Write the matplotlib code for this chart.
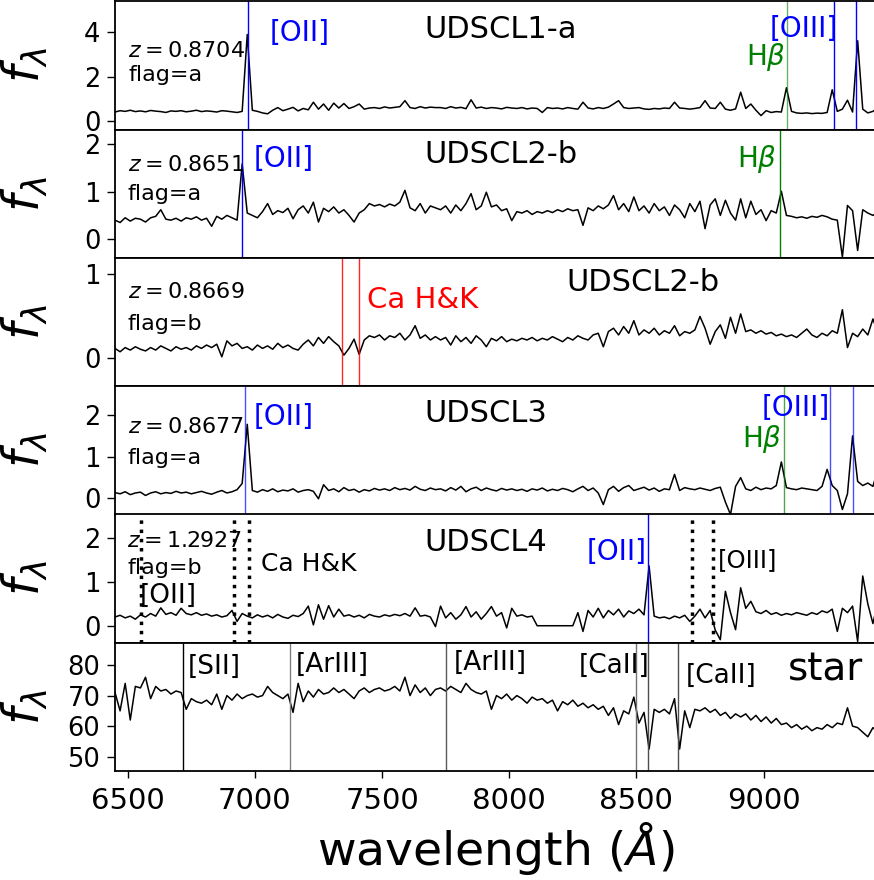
import matplotlib
matplotlib.use("Agg")
import matplotlib.pyplot as plt

# ---------------- data ----------------
wavelength = [
    6450, 6470, 6490, 6510, 6530, 6550, 6570, 6590, 6610, 6630,
    6650, 6670, 6690, 6710, 6730, 6750, 6770, 6790, 6810, 6830,
    6850, 6870, 6890, 6910, 6930, 6950, 6970, 6990, 7010, 7030,
    7050, 7070, 7090, 7110, 7130, 7150, 7170, 7190, 7210, 7230,
    7250, 7270, 7290, 7310, 7330, 7350, 7370, 7390, 7410, 7430,
    7450, 7470, 7490, 7510, 7530, 7550, 7570, 7590, 7610, 7630,
    7650, 7670, 7690, 7710, 7730, 7750, 7770, 7790, 7810, 7830,
    7850, 7870, 7890, 7910, 7930, 7950, 7970, 7990, 8010, 8030,
    8050, 8070, 8090, 8110, 8130, 8150, 8170, 8190, 8210, 8230,
    8250, 8270, 8290, 8310, 8330, 8350, 8370, 8390, 8410, 8430,
    8450, 8470, 8490, 8510, 8530, 8550, 8570, 8590, 8610, 8630,
    8650, 8670, 8690, 8710, 8730, 8750, 8770, 8790, 8810, 8830,
    8850, 8870, 8890, 8910, 8930, 8950, 8970, 8990, 9010, 9030,
    9050, 9070, 9090, 9110, 9130, 9150, 9170, 9190, 9210, 9230,
    9250, 9270, 9290, 9310, 9330, 9350, 9370, 9390, 9410, 9430,
    9450]

flux_udscl1a = [
    0.42, 0.48, 0.45, 0.50, 0.44, 0.47, 0.43, 0.49, 0.46, 0.44,
    0.40, 0.47, 0.45, 0.48, 0.43, 0.46, 0.50, 0.44, 0.47, 0.45,
    0.42, 0.48, 0.46, 0.43, 0.40, 0.45, 3.90, 0.50, 0.45, 0.38,
    0.34, 0.50, 0.62, 0.48, 0.55, 0.63, 0.47, 0.58, 0.52, 0.86,
    0.55, 0.78, 0.50, 0.82, 0.60, 0.80, 0.58, 0.66, 0.78, 0.55,
    0.60, 0.62, 0.58, 0.65, 0.60, 0.63, 0.66, 0.93, 0.62, 0.58,
    0.66, 0.60, 0.64, 0.62, 0.62, 0.58, 0.66, 0.60, 0.63, 0.57,
    0.97, 0.60, 0.64, 0.58, 0.62, 0.60, 0.56, 0.63, 0.60, 0.58,
    0.62, 0.56, 0.60, 0.58, 0.40, 0.62, 0.58, 0.60, 0.56, 0.62,
    0.58, 0.55, 0.86, 0.60, 0.56, 0.62, 0.58, 0.64, 0.78, 0.93,
    0.62, 0.58, 0.60, 0.62, 0.56, 0.54, 0.58, 0.56, 0.60, 0.58,
    0.86, 0.60, 0.58, 0.55, 0.58, 0.62, 0.93, 0.60, 0.58, 0.86,
    0.55, 0.50, 0.56, 1.31, 0.58, 0.78, 0.50, 0.26, 0.48, 0.40,
    0.44, 0.42, 1.51, 0.45, 0.38, 0.36, 0.38, 0.35, 0.37, 0.36,
    0.40, 1.42, 0.45, 0.55, 0.95, 0.42, 3.62, 0.55, 0.38, 0.45,
    0.62]

flux_udscl2b_em = [
    0.40, 0.35, 0.45, 0.38, 0.44, 0.42, 0.36, 0.45, 0.48, 0.62,
    0.42, 0.40, 0.44, 0.38, 0.45, 0.42, 0.47, 0.40, 0.44, 0.27,
    0.48, 0.42, 0.50, 0.45, 0.40, 1.59, 0.55, 0.50, 0.45, 0.58,
    0.75, 0.52, 0.60, 0.56, 0.65, 0.43, 0.62, 0.70, 0.55, 0.78,
    0.36, 0.65, 0.58, 0.68, 0.55, 0.62, 0.50, 0.36, 0.55, 0.62,
    0.75, 0.70, 0.73, 0.68, 0.74, 0.70, 0.78, 1.03, 0.66, 0.60,
    0.75, 0.55, 0.70, 0.66, 0.62, 0.70, 0.55, 0.72, 0.60, 0.75,
    0.96, 0.62, 0.70, 0.99, 0.68, 0.72, 0.60, 0.64, 0.39, 0.58,
    0.55, 0.60, 0.52, 0.58, 0.55, 0.60, 0.56, 0.62, 0.58, 0.64,
    0.60, 0.62, 0.29, 0.66, 0.60, 0.70, 0.64, 0.72, 0.92, 0.62,
    0.75, 0.58, 0.89, 0.60, 0.70, 0.55, 0.75, 0.60, 0.68, 0.50,
    0.72, 0.62, 0.45, 0.75, 0.58, 0.80, 0.22, 0.72, 0.85, 0.50,
    0.82, 0.55, 0.40, 0.85, 0.45, 0.80, 0.52, 0.62, 0.39, 0.60,
    0.55, 1.01, 0.50, 0.48, 0.45, 0.47, 0.44, 0.48, 0.46, 0.50,
    0.47, 0.42, 0.40, -0.38, 0.71, 0.60, -0.24, 0.62, 0.55, 0.50,
    0.58]

flux_udscl2b_abs = [
    0.12, 0.08, 0.13, 0.10, 0.14, 0.11, 0.09, 0.13, 0.10, 0.15,
    0.12, 0.09, 0.14, 0.11, 0.13, 0.10, 0.15, 0.12, 0.16, 0.13,
    0.17, 0.02, 0.21, 0.15, 0.18, 0.12, 0.14, 0.10, 0.16, 0.12,
    0.15, 0.11, 0.18, 0.13, 0.16, 0.12, 0.10, 0.17, 0.22, 0.15,
    0.25, 0.18, 0.26, 0.20, 0.15, 0.04, 0.12, 0.23, 0.05, 0.22,
    0.27, 0.25, 0.28, 0.22, 0.27, 0.25, 0.30, 0.22, 0.28, 0.39,
    0.24, 0.28, 0.22, 0.26, 0.22, 0.25, 0.16, 0.27, 0.20, 0.25,
    0.18, 0.27, 0.22, 0.14, 0.24, 0.21, 0.26, 0.20, 0.23, 0.21,
    0.24, 0.22, 0.25, 0.21, 0.24, 0.22, 0.26, 0.23, 0.20, 0.25,
    0.22, 0.27, 0.24, 0.22, 0.28, 0.30, 0.14, 0.32, 0.36, 0.28,
    0.38, 0.30, 0.45, 0.28, 0.34, 0.30, 0.36, 0.28, 0.33, 0.30,
    0.39, 0.27, 0.32, 0.30, 0.34, 0.50, 0.36, 0.17, 0.32, 0.40,
    0.24, 0.49, 0.30, 0.53, 0.32, 0.34, 0.30, 0.33, 0.29, 0.31,
    0.27, 0.29, 0.26, 0.28, 0.25, 0.30, 0.35, 0.28, 0.25, 0.30,
    0.27, 0.33, 0.30, 0.58, 0.13, 0.30, 0.26, 0.35, 0.28, 0.47,
    0.30]

flux_udscl3 = [
    0.13, 0.10, 0.15, 0.08, 0.12, 0.14, 0.06, 0.12, 0.15, 0.10,
    0.13, 0.11, 0.16, 0.12, 0.14, 0.10, 0.13, 0.16, 0.12, 0.09,
    0.14, 0.18, 0.12, 0.15, 0.20, 0.35, 1.78, 0.18, 0.14, 0.20,
    0.16, 0.22, 0.15, 0.19, 0.17, 0.22, 0.14, 0.18, 0.20, 0.16,
    -0.02, 0.32, 0.18, 0.22, 0.15, 0.25, 0.18, 0.21, 0.14, 0.20,
    0.17, 0.23, 0.19, 0.22, 0.18, 0.25, 0.20, 0.23, 0.19, 0.28,
    0.21, 0.18, 0.24, 0.20, 0.22, 0.17, 0.25, 0.19, 0.28, 0.15,
    0.22, 0.26, 0.18, 0.24, 0.20, 0.17, 0.23, 0.19, 0.22, 0.18,
    0.21, 0.16, 0.22, 0.19, 0.24, 0.17, 0.21, 0.18, 0.23, 0.20,
    0.15, 0.22, 0.28, 0.18, 0.24, 0.12, -0.16, 0.20, 0.28, 0.16,
    0.25, 0.30, 0.18, 0.22, 0.26, 0.19, 0.24, 0.16, 0.22, 0.20,
    0.57, 0.18, 0.25, 0.22, 0.20, 0.24, 0.21, 0.18, 0.23, 0.26,
    -0.10, -0.40, 0.28, 0.49, 0.22, 0.18, 0.26, 0.20, 0.24, 0.22,
    0.30, 0.87, 0.25, 0.22, 0.20, 0.24, 0.22, 0.20, 0.18, 0.28,
    0.69, 0.30, 0.18, -0.28, 0.10, 1.50, 0.40, 0.30, 0.36, 0.28,
    0.69]

flux_udscl4 = [
    0.20, 0.24, 0.18, 0.22, 0.15, 0.25, 0.20, 0.28, 0.22, 0.41,
    0.26, 0.30, 0.24, 0.40, 0.28, 0.25, 0.30, 0.24, 0.27, 0.22,
    0.25, 0.20, 0.23, 0.35, 0.10, 0.28, 0.22, 0.18, 0.25, 0.20,
    0.24, 0.18, 0.26, 0.20, 0.17, 0.24, 0.21, 0.28, 0.45, 0.02,
    0.48, 0.15, 0.46, 0.20, 0.38, 0.22, 0.25, 0.20, 0.24, 0.18,
    0.26, 0.22, 0.20, 0.25, 0.22, 0.26, 0.23, 0.28, 0.22, 0.41,
    0.22, 0.24, 0.20, -0.02, 0.45, 0.18, 0.30, 0.15, 0.25, 0.44,
    0.20, 0.32, 0.15, 0.28, 0.44, 0.22, 0.30, -0.05, 0.40, 0.22,
    0.25, 0.20, 0.22, 0.00, 0.00, 0.00, 0.00, 0.00, 0.00, 0.00,
    0.00, 0.30, -0.13, 0.35, 0.20, 0.40, 0.18, 0.35, 0.25, 0.38,
    0.20, 0.34, 0.28, 0.38, 0.25, 1.37, 0.22, 0.18, 0.20, 0.16,
    0.22, 0.18, 0.24, 0.10, 0.22, 0.38, 0.18, 0.35, -0.10, -0.32,
    0.79, 0.30, -0.09, 0.87, 0.40, 0.56, 0.32, 0.28, 0.35, 0.26,
    0.30, 0.24, 0.28, 0.25, 0.30, 0.27, 0.24, 0.30, 0.26, 0.34,
    0.30, 0.38, -0.13, 0.40, 0.30, 0.45, -0.36, 1.14, 0.50, 0.05,
    0.56]

flux_star = [
    71.0, 65.0, 74.0, 62.0, 73.0, 72.5, 76.0, 69.0, 73.0, 71.5,
    72.0, 70.5, 71.5, 71.0, 65.5, 69.0, 68.0, 67.5, 68.5, 67.0,
    70.5, 65.5, 70.0, 68.5, 70.5, 69.0, 70.0, 70.5, 69.5, 70.0,
    73.0, 71.0, 70.0, 69.0, 70.5, 64.5, 74.0, 68.0, 71.5, 69.5,
    72.0, 70.5, 71.0, 72.5, 71.0, 72.0, 70.5, 69.0, 71.5, 72.5,
    71.0, 72.0, 72.5, 71.5, 72.0, 73.0, 71.5, 76.0, 70.0, 73.5,
    71.0, 72.5, 70.0, 72.0, 72.5, 71.5, 73.0, 72.0, 71.0, 74.0,
    72.0, 71.0, 70.5, 71.5, 65.5, 70.0, 69.0, 70.5, 68.5, 70.0,
    69.0, 67.5, 69.5, 68.5, 69.0, 67.5, 68.5, 65.0, 68.0, 67.0,
    68.5, 66.5, 67.5, 66.0, 67.0, 65.5, 66.5, 63.5, 66.0, 60.5,
    65.0, 64.0, 69.5, 61.0, 64.5, 52.5, 65.5, 64.5, 65.5, 64.0,
    69.0, 52.5, 65.0, 59.5, 65.5, 65.0, 66.0, 64.5, 65.5, 63.5,
    64.5, 62.5, 64.0, 63.0, 64.0, 62.0, 63.5, 61.5, 63.0, 61.0,
    62.5, 60.5, 61.0, 59.5, 60.5, 59.0, 60.0, 58.5, 59.5, 59.0,
    60.5, 59.5, 61.0, 60.5, 66.0, 60.0, 59.5, 58.0, 56.5, 59.5,
    58.0]

# rest-frame lines (Angstrom) and redshifts
rest_OII = 3727.0
rest_Hb = 4861.0
rest_OIII = [4959.0, 5007.0]
rest_CaK = 3934.0
rest_CaH = 3969.0
z_values = [0.8704, 0.8651, 0.8669, 0.8677, 1.2927]
z_alt_udscl4 = 0.758
flags = ["a", "a", "b", "a", "b"]
star_lines = [6719.0, 7138.0, 7751.0, 8500.0, 8544.0, 8664.0]
star_line_colors = ["black", "0.5", "0.35", "0.45", "0.3", "0.3"]

spectra = [flux_udscl1a, flux_udscl2b_em, flux_udscl2b_abs, flux_udscl3,
           flux_udscl4, flux_star]
ylims = [(-0.375, 5.38), (-0.40, 2.31), (-0.33, 1.195), (-0.40, 2.70),
         (-0.39, 2.55), (45.3, 87.3)]
yticks = [[0, 2, 4], [0, 1, 2], [0, 1], [0, 1, 2], [0, 1, 2], [50, 60, 70, 80]]
xticks = [6500, 7000, 7500, 8000, 8500, 9000]

for s in spectra:
    assert len(s) == len(wavelength), len(s)

# ---------------- figure ----------------
W, H = 874, 880
fig = plt.figure(figsize=(W / 100, H / 100), dpi=100)
ax_left, ax_right = 115.0, 878.0
top, bottom = 1.5, 771.0
n = 6
ph = (bottom - top) / n
axes = []
for k in range(n):
    y0 = top + k * ph
    ax = fig.add_axes([ax_left / W, 1 - (y0 + ph) / H,
                       (ax_right - ax_left) / W, ph / H])
    ax.plot(wavelength, spectra[k], color="black", lw=1.1)
    ax.set_xlim(6450, 9450)
    ax.set_ylim(*ylims[k])
    ax.set_yticks(yticks[k])
    ax.tick_params(axis="y", labelsize=18.5, length=5.5, width=1.0, pad=5)
    ax.set_xticks(xticks)
    if k < n - 1:
        ax.tick_params(axis="x", bottom=False, labelbottom=False)
    else:
        ax.tick_params(axis="x", labelsize=21, length=5, width=1.0, pad=6.5)
    ax.set_ylabel(r"$f_\lambda$", fontsize=35)
    ax.yaxis.set_label_coords(-0.085, 0.5)
    for sp in ax.spines.values():
        sp.set_linewidth(1.3)
    axes.append(ax)


def ftext(x, y, s, size, color="black"):
    fig.text(x / W, 1 - y / H, s, fontsize=size, color=color,
             ha="left", va="baseline")


# panel 1
z = z_values[0]
axes[0].axvline(rest_OII * (1 + z), color="blue", lw=1.0)
axes[0].axvline(rest_Hb * (1 + z), color="green", lw=1.0, alpha=0.6)
for r in rest_OIII:
    axes[0].axvline(r * (1 + z), color="blue", lw=1.0)
# panel 2
z = z_values[1]
axes[1].axvline(rest_OII * (1 + z), color="blue", lw=1.0)
axes[1].axvline(rest_Hb * (1 + z), color="green", lw=1.0)
# panel 3
z = z_values[2]
axes[2].axvline(rest_CaK * (1 + z), color="red", lw=1.0, alpha=0.85)
axes[2].axvline(rest_CaH * (1 + z), color="red", lw=1.0, alpha=0.85)
# panel 4
z = z_values[3]
axes[3].axvline(rest_OII * (1 + z), color="blue", lw=1.0, alpha=0.7)
axes[3].axvline(rest_Hb * (1 + z), color="green", lw=1.0, alpha=0.7)
for r in rest_OIII:
    axes[3].axvline(r * (1 + z), color="blue", lw=1.0, alpha=0.7)
# panel 5
z = z_values[4]
axes[4].axvline(rest_OII * (1 + z), color="blue", lw=1.0)
za = z_alt_udscl4
for r in [rest_OII, rest_CaK, rest_CaH] + rest_OIII:
    axes[4].axvline(r * (1 + za), color="black", lw=2.5, ls=":")
# panel 6 (star)
for wl, c in zip(star_lines, star_line_colors):
    axes[5].axvline(wl, color=c, lw=1.0)

# annotations
z_pos = [(127.7, 56.7), (128, 170.7), (128, 298.3), (128, 433.3), (126.7, 546.7)]
f_pos = [(128.3, 81), (128, 200), (128, 330), (128, 464.3), (128, 574)]
for k in range(5):
    ftext(*z_pos[k], r"$z = %.4f$" % z_values[k], 16)
    ftext(*f_pos[k], "flag=%s" % flags[k], 16)

ftext(269.3, 40.7, "[OII]", 20, "blue")
ftext(424, 37.7, "UDSCL1-a", 22)
ftext(770, 37.3, "[OIII]", 20, "blue")
ftext(746, 65, r"H$\beta$", 20, "green")

ftext(254, 167.3, "[OII]", 20, "blue")
ftext(424, 163.3, "UDSCL2-b", 22)
ftext(736.7, 166.7, r"H$\beta$", 20, "green")

ftext(366.7, 307.7, "Ca H&K", 21, "red")
ftext(566.7, 291, "UDSCL2-b", 22)

ftext(254, 425, "[OII]", 20, "blue")
ftext(424, 421.7, "UDSCL3", 22)
ftext(761.7, 415.7, "[OIII]", 20, "blue")
ftext(741.7, 446.7, r"H$\beta$", 20, "green")

ftext(139.3, 603.3, "[OII]", 19)
ftext(260.7, 570.7, "Ca H&K", 18)
ftext(424, 550.7, "UDSCL4", 22)
ftext(586.7, 560, "[OII]", 20, "blue")
ftext(718.3, 566.7, "[OIII]", 17.5)

ftext(187.3, 674, "[SII]", 19)
ftext(296, 671.7, "[ArIII]", 19)
ftext(453.3, 670, "[ArIII]", 19)
ftext(578.3, 672.7, "[CaII]", 19)
ftext(686, 682.7, "[CaII]", 19)
ftext(788.3, 680.7, "star", 28)

fig.text(496 / W, 1 - 865 / H, r"wavelength ($\AA$)", fontsize=34,
         ha="center", va="baseline")

fig.savefig("out.png", dpi=100)
